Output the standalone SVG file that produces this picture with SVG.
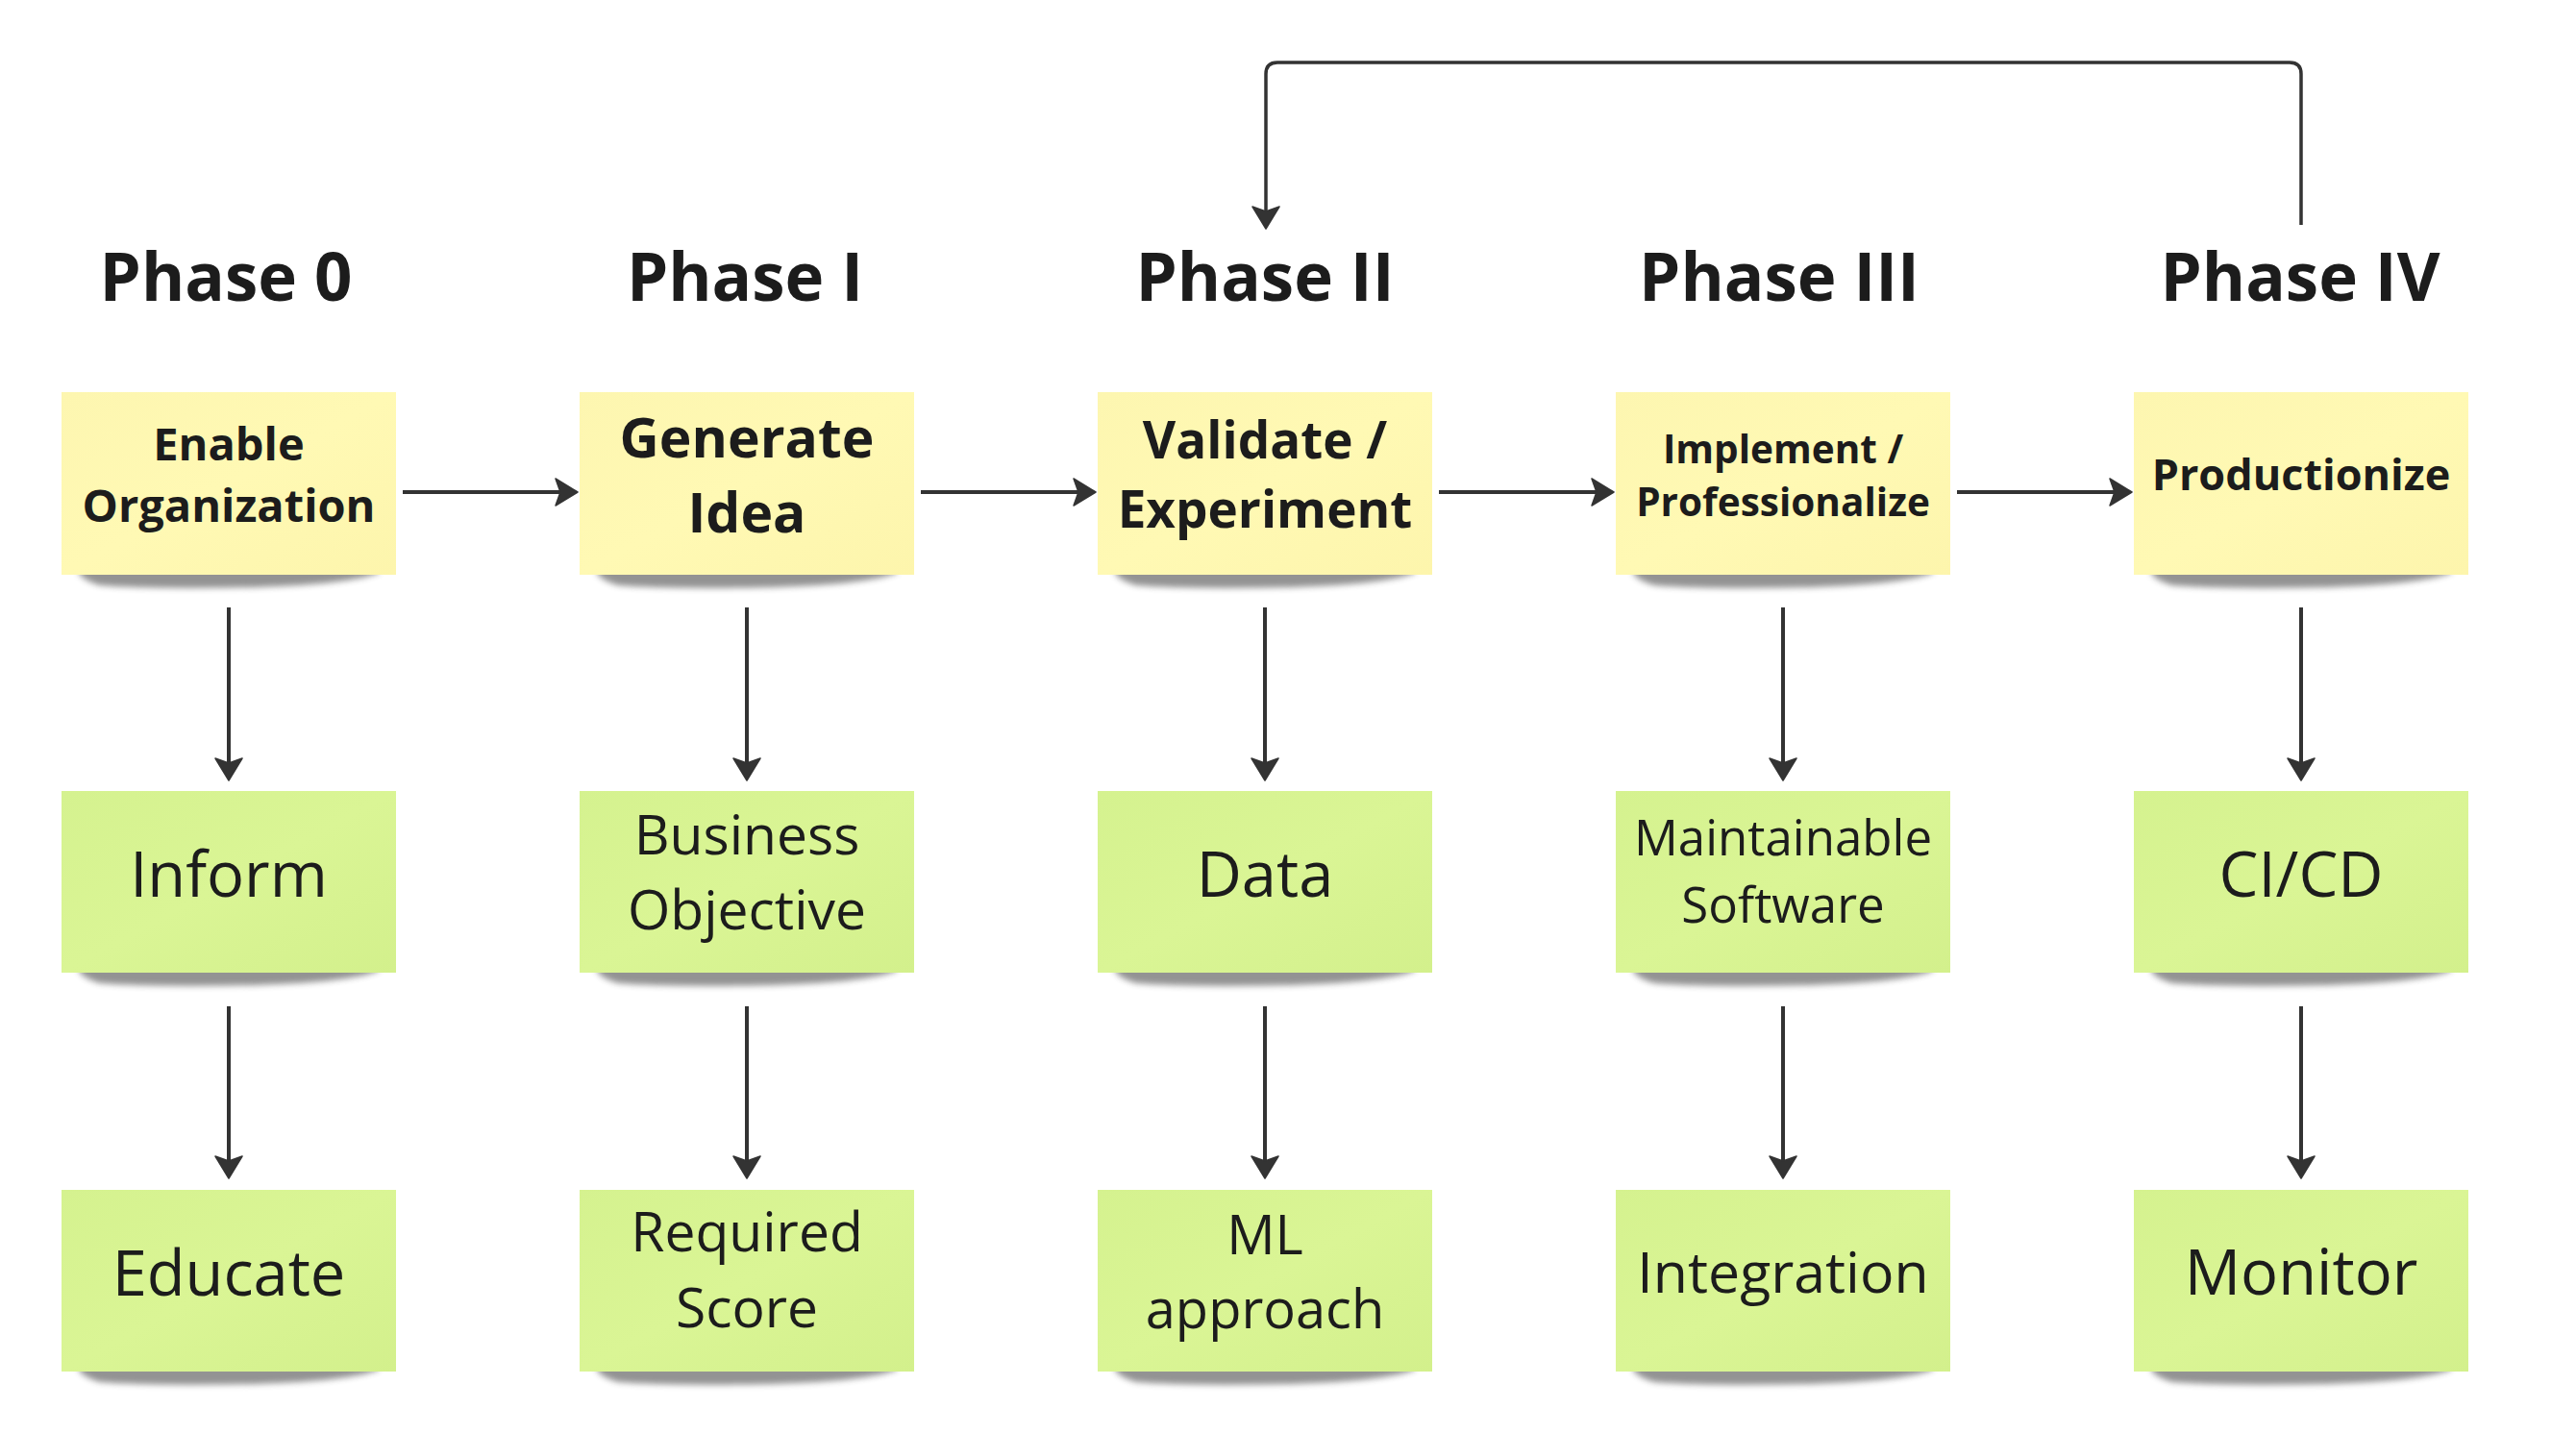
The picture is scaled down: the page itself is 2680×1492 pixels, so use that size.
<svg xmlns="http://www.w3.org/2000/svg" width="2680" height="1492" viewBox="0 0 2680 1492">
<defs>
<style>
.title{font-family:"Open Sans","Noto Sans","Liberation Sans",sans-serif;font-weight:700;font-size:69px;fill:#1c1c1c;text-anchor:middle}
.yt{font-family:"Open Sans","Noto Sans","Liberation Sans",sans-serif;font-weight:700;fill:#1c1c1c;text-anchor:middle}
.gt{font-family:"Open Sans","Noto Sans","Liberation Sans",sans-serif;font-weight:400;fill:#1c1c1c;text-anchor:middle}
.conn{fill:none;stroke:#333333;stroke-width:4}
.shadow{fill:#3a3a3a;opacity:0.55;filter:url(#blur)}
</style>
<linearGradient id="gy" x1="0" y1="0" x2="1" y2="1">
<stop offset="0" stop-color="#fdf6b0"/>
<stop offset="0.5" stop-color="#fff9b4"/>
<stop offset="1" stop-color="#fdf5ac"/>
</linearGradient>
<linearGradient id="gg" x1="0" y1="0" x2="1" y2="1">
<stop offset="0" stop-color="#d5f28f"/>
<stop offset="0.5" stop-color="#daf595"/>
<stop offset="1" stop-color="#d3f08c"/>
</linearGradient>
<filter id="blur" x="-10%" y="-100%" width="120%" height="300%">
<feGaussianBlur stdDeviation="3"/>
</filter>
<marker id="ah" markerUnits="userSpaceOnUse" markerWidth="32" markerHeight="32" viewBox="-28 -16 32 32" refX="-12" refY="0" orient="auto">
<path d="M0,0 L-23,-14 L-18,0 L-23,14 Z" fill="#333333" stroke="#333333" stroke-width="1.5" stroke-linejoin="round"/>
</marker>
<g id="shd">
<path d="M18,-8 L330,-8 L330,-2 Q300,10 200,13 Q90,15 40,11 Q22,6 18,-2 Z"/>
</g>
</defs>
<rect width="2680" height="1492" fill="#ffffff"/>

<g id="titles">
<text class="title" x="235" y="313">Phase 0</text>
<text class="title" x="775" y="313">Phase I</text>
<text class="title" x="1316" y="313">Phase II</text>
<text class="title" x="1851" y="313">Phase III</text>
<text class="title" x="2393" y="313">Phase IV</text>
</g>

<g id="connectors">
<path class="conn" d="M419,512 H589" marker-end="url(#ah)"/>
<path class="conn" d="M958,512 H1128" marker-end="url(#ah)"/>
<path class="conn" d="M1497,512 H1667" marker-end="url(#ah)"/>
<path class="conn" d="M2036,512 H2206" marker-end="url(#ah)"/>
<path class="conn" d="M238,632 V800" marker-end="url(#ah)"/>
<path class="conn" d="M777,632 V800" marker-end="url(#ah)"/>
<path class="conn" d="M1316,632 V800" marker-end="url(#ah)"/>
<path class="conn" d="M1855,632 V800" marker-end="url(#ah)"/>
<path class="conn" d="M2394,632 V800" marker-end="url(#ah)"/>
<path class="conn" d="M238,1047 V1214" marker-end="url(#ah)"/>
<path class="conn" d="M777,1047 V1214" marker-end="url(#ah)"/>
<path class="conn" d="M1316,1047 V1214" marker-end="url(#ah)"/>
<path class="conn" d="M1855,1047 V1214" marker-end="url(#ah)"/>
<path class="conn" d="M2394,1047 V1214" marker-end="url(#ah)"/>
<path class="conn" style="stroke-width:3.5" d="M2394,234 V77 Q2394,65 2382,65 H1329 Q1317,65 1317,77 V226" marker-end="url(#ah)"/>
</g>

<g id="n-enable">
<use href="#shd" class="shadow" transform="translate(64,598)"/>
<rect x="64" y="408" width="348" height="190" fill="url(#gy)"/>
<text class="yt" font-size="47" x="238" y="479">Enable</text>
<text class="yt" font-size="47" x="238" y="543">Organization</text>
</g>
<g id="n-generate">
<use href="#shd" class="shadow" transform="translate(603,598)"/>
<rect x="603" y="408" width="348" height="190" fill="url(#gy)"/>
<text class="yt" font-size="57" x="777" y="476">Generate</text>
<text class="yt" font-size="57" x="777" y="554">Idea</text>
</g>
<g id="n-validate">
<use href="#shd" class="shadow" transform="translate(1142,598)"/>
<rect x="1142" y="408" width="348" height="190" fill="url(#gy)"/>
<text class="yt" font-size="53" x="1316" y="477">Validate /</text>
<text class="yt" font-size="53" x="1316" y="549">Experiment</text>
</g>
<g id="n-implement">
<use href="#shd" class="shadow" transform="translate(1681,598)"/>
<rect x="1681" y="408" width="348" height="190" fill="url(#gy)"/>
<text class="yt" font-size="40.5" x="1855" y="482">Implement /</text>
<text class="yt" font-size="40.5" x="1855" y="537">Professionalize</text>
</g>
<g id="n-productionize">
<use href="#shd" class="shadow" transform="translate(2220,598)"/>
<rect x="2220" y="408" width="348" height="190" fill="url(#gy)"/>
<text class="yt" font-size="45" x="2394" y="510">Productionize</text>
</g>

<g id="n-inform">
<use href="#shd" class="shadow" transform="translate(64,1012)"/>
<rect x="64" y="823" width="348" height="189" fill="url(#gg)"/>
<text class="gt" font-size="65" x="238" y="933">Inform</text>
</g>
<g id="n-business">
<use href="#shd" class="shadow" transform="translate(603,1012)"/>
<rect x="603" y="823" width="348" height="189" fill="url(#gg)"/>
<text class="gt" font-size="57" x="777" y="889">Business</text>
<text class="gt" font-size="57" x="777" y="967">Objective</text>
</g>
<g id="n-data">
<use href="#shd" class="shadow" transform="translate(1142,1012)"/>
<rect x="1142" y="823" width="348" height="189" fill="url(#gg)"/>
<text class="gt" font-size="65" x="1316" y="933">Data</text>
</g>
<g id="n-maintainable">
<use href="#shd" class="shadow" transform="translate(1681,1012)"/>
<rect x="1681" y="823" width="348" height="189" fill="url(#gg)"/>
<text class="gt" font-size="51" x="1855" y="890">Maintainable</text>
<text class="gt" font-size="51" x="1855" y="960">Software</text>
</g>
<g id="n-cicd">
<use href="#shd" class="shadow" transform="translate(2220,1012)"/>
<rect x="2220" y="823" width="348" height="189" fill="url(#gg)"/>
<text class="gt" font-size="65" x="2394" y="933">CI/CD</text>
</g>

<g id="n-educate">
<use href="#shd" class="shadow" transform="translate(64,1427)"/>
<rect x="64" y="1238" width="348" height="189" fill="url(#gg)"/>
<text class="gt" font-size="65" x="238" y="1348">Educate</text>
</g>
<g id="n-required">
<use href="#shd" class="shadow" transform="translate(603,1427)"/>
<rect x="603" y="1238" width="348" height="189" fill="url(#gg)"/>
<text class="gt" font-size="57" x="777" y="1302">Required</text>
<text class="gt" font-size="57" x="777" y="1381">Score</text>
</g>
<g id="n-ml">
<use href="#shd" class="shadow" transform="translate(1142,1427)"/>
<rect x="1142" y="1238" width="348" height="189" fill="url(#gg)"/>
<text class="gt" font-size="56" x="1316" y="1305">ML</text>
<text class="gt" font-size="56" x="1316" y="1382">approach</text>
</g>
<g id="n-integration">
<use href="#shd" class="shadow" transform="translate(1681,1427)"/>
<rect x="1681" y="1238" width="348" height="189" fill="url(#gg)"/>
<text class="gt" font-size="59" x="1855" y="1345">Integration</text>
</g>
<g id="n-monitor">
<use href="#shd" class="shadow" transform="translate(2220,1427)"/>
<rect x="2220" y="1238" width="348" height="189" fill="url(#gg)"/>
<text class="gt" font-size="65" x="2394" y="1347">Monitor</text>
</g>
</svg>
